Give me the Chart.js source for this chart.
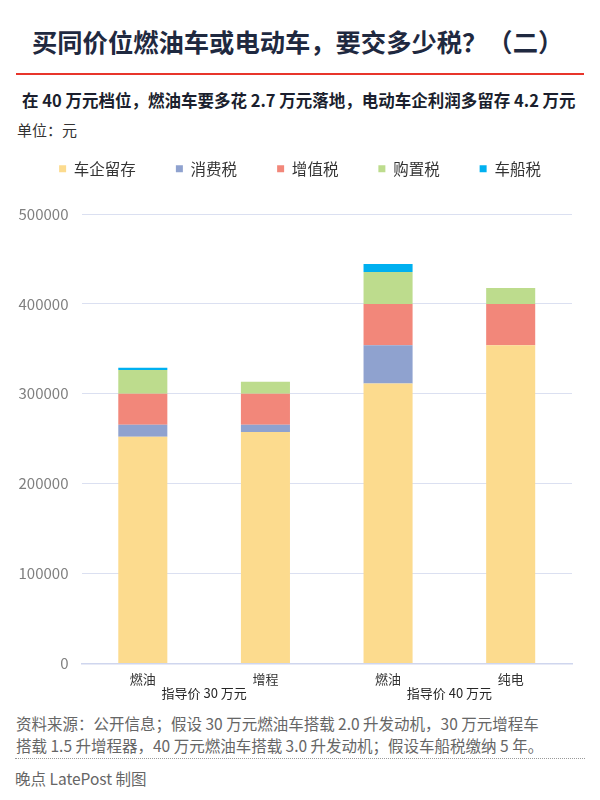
<!DOCTYPE html>
<html>
<head>
<meta charset="utf-8">
<script src="https://cdn.jsdelivr.net/npm/chart.js@4.4.1/dist/chart.umd.min.js"></script>
<style>
  html, body { margin: 0; padding: 0; background: #fff; }
  body { width: 600px; height: 800px; position: relative; overflow: hidden;
         font-family: "Noto Sans CJK SC", "Noto Sans", sans-serif; }
  .abs { position: absolute; white-space: nowrap; }
  #title { left: 32px; top: 26px; font-size: 25.3px; line-height: 30px; font-weight: bold; color: #1f2940; }
  #redline { left: 16px; top: 73px; width: 568px; height: 2px; background: #e8352b; }
  #subtitle { left: 22px; top: 90px; font-size: 16.5px; line-height: 20px; font-weight: bold; color: #1b1f2e; }
  #unit { left: 17px; top: 120px; font-size: 15px; line-height: 20px; color: #333; }
  #source { left: 16px; top: 712px; font-size: 15.5px; line-height: 22px; color: #666; white-space: normal; width: 584px; }
  #dots { left: 15px; top: 758px; width: 570px; height: 0; border-top: 1px dotted #999; }
  #credit { left: 15px; top: 768px; font-size: 15.5px; line-height: 20px; color: #666; }
  #wrap { position: absolute; left: 0; top: 121px; width: 600px; height: 590px; }
</style>
</head>
<body>
<div id="title" class="abs">买同价位燃油车或电动车，要交多少税？（二）</div>
<div id="redline" class="abs"></div>
<div id="subtitle" class="abs">在 40 万元档位，燃油车要多花 2.7 万元落地，电动车企利润多留存 4.2 万元</div>
<div id="unit" class="abs">单位：元</div>
<div id="wrap"><canvas id="c"></canvas></div>
<div id="source" class="abs">资料来源：公开信息；假设 30 万元燃油车搭载 2.0 升发动机，30 万元增程车<br>搭载 1.5 升增程器，40 万元燃油车搭载 3.0 升发动机；假设车船税缴纳 5 年。</div>
<div id="dots" class="abs"></div>
<div id="credit" class="abs">晚点 LatePost 制图</div>
<script>
// ---- data ----
const categories = ['燃油', '增程', '燃油', '纯电'];
const groupLabels = ['指导价 30 万元', '指导价 40 万元'];
const groupOfCategory = [0, 0, 1, 1];
const seriesNames = ['车企留存', '消费税', '增值税', '购置税', '车船税'];
const retained = [252200, 257500, 311500, 354000];
const consumptionTax = [13300, 8000, 42500, 0];
const vat = [34500, 34500, 46000, 46000];
const purchaseTax = [26500, 13300, 35400, 17700];
const vesselTax = [2400, 0, 9000, 0];
const yTickValues = [0, 100000, 200000, 300000, 400000, 500000];
const seriesColors = ['#FCDB8E', '#8FA2CF', '#F2877A', '#BDDC8D', '#00B0F0'];

Chart.defaults.font.family = '"Noto Sans CJK SC", "Noto Sans", sans-serif';

const seriesValues = [retained, consumptionTax, vat, purchaseTax, vesselTax];
const datasets = seriesNames.map((name, i) => ({
  label: name,
  data: seriesValues[i],
  backgroundColor: seriesColors[i],
  borderWidth: 0,
  barPercentage: 0.4,
  categoryPercentage: 1.0
}));

const legendSpacer = {
  id: 'legendSpacer',
  beforeInit(chart) {
    const origFit = chart.legend.fit;
    chart.legend.fit = function () {
      origFit.bind(chart.legend)();
      this.height = 93;
    };
  }
};

const groupLabelPlugin = {
  id: 'groupLabels',
  afterDraw(chart) {
    const xs = chart.scales.x;
    const ctx = chart.ctx;
    ctx.save();
    ctx.font = '13px "Noto Sans CJK SC", sans-serif';
    ctx.fillStyle = '#262626';
    ctx.textAlign = 'center';
    ctx.textBaseline = 'middle';
    groupLabels.forEach((lab, g) => {
      const px = [];
      groupOfCategory.forEach((gg, i) => { if (gg === g) px.push(xs.getPixelForValue(i)); });
      const cx = px.reduce((a, b) => a + b, 0) / px.length;
      ctx.fillText(lab, cx, xs.top + 30);
    });
    ctx.restore();
  }
};

new Chart(document.getElementById('c'), {
  type: 'bar',
  data: { labels: categories, datasets },
  plugins: [legendSpacer, groupLabelPlugin],
  options: {
    responsive: true,
    maintainAspectRatio: false,
    animation: false,
    layout: { padding: { top: 0, right: 0, bottom: 16, left: 0 } },
    plugins: {
      tooltip: { enabled: false },
      legend: {
        position: 'top',
        labels: {
          boxWidth: 7, boxHeight: 7, padding: 40,
          color: '#333',
          font: { size: 15.5 }
        }
      }
    },
    scales: {
      x: {
        stacked: true,
        grid: { display: false, drawTicks: false },
        border: { display: true, color: '#cfd6ee', width: 1.5 },
        ticks: { color: '#333', font: { size: 13 }, padding: 8 }
      },
      y: {
        stacked: true,
        min: 0, max: 500000,
        afterBuildTicks: s => { s.ticks = yTickValues.map(v => ({ value: v })); },
        afterFit: s => { s.width = 81.5; },
        grid: { color: '#dbe0f1', lineWidth: 1, drawTicks: false },
        border: { display: false },
        ticks: { color: '#7f7f7f', font: { size: 15 }, padding: 13, callback: v => String(v) }
      },
      yr: {
        position: 'right',
        type: 'linear',
        grid: { display: false, drawTicks: false },
        border: { display: false },
        ticks: { display: false },
        afterFit: s => { s.width = 28; }
      }
    }
  }
});
</script>
</body>
</html>
